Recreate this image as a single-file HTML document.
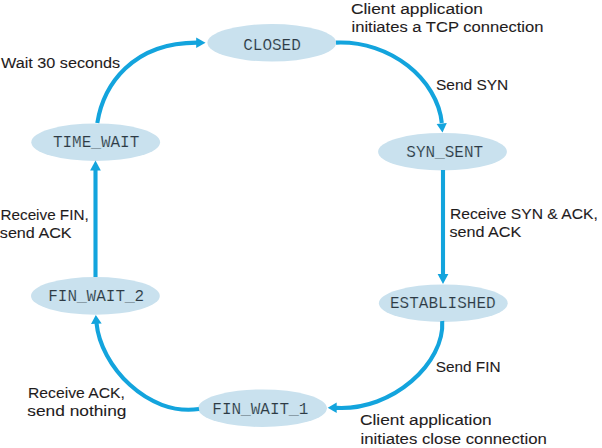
<!DOCTYPE html>
<html><head><meta charset="utf-8">
<style>
html,body{margin:0;padding:0;background:#fff;}
body{width:602px;height:448px;overflow:hidden;}
svg{display:block;}
.s{font-family:"Liberation Sans",sans-serif;font-size:15.5px;fill:#1f1c1d;stroke:#1f1c1d;stroke-width:0.1;}
.m{font-family:"Liberation Mono",monospace;font-size:16px;fill:#2e3a44;stroke:#c9e1ee;stroke-width:0.15;}
.e{fill:#c9e1ee;}
.a{fill:none;stroke:#13a4dd;stroke-width:4.1;}
.h{fill:#13a4dd;}
</style></head>
<body>
<svg width="602" height="448" viewBox="0 0 602 448" xmlns="http://www.w3.org/2000/svg">
<ellipse class="e" cx="271.8" cy="42.8" rx="64.4" ry="18.8"/>
<ellipse class="e" cx="442.5" cy="151.7" rx="64.4" ry="18.8"/>
<ellipse class="e" cx="443.3" cy="303.2" rx="64.4" ry="18.8"/>
<ellipse class="e" cx="262.5" cy="408.2" rx="64.4" ry="18.8"/>
<ellipse class="e" cx="95.4" cy="295.9" rx="64.4" ry="18.8"/>
<ellipse class="e" cx="95.7" cy="142.2" rx="64.4" ry="18.8"/>
<path class="a" d="M97.3,123 C103.4,85 132.3,42.6 197,42.6"/>
<polygon class="h" points="205.5,42.8 196.2,37.5 196.2,48.1"/>
<path class="a" d="M336,42.6 C390.7,40.3 437.5,79.7 441.8,123"/>
<polygon class="h" points="442.5,132.6 436.6,124.1 446.8,122.9"/>
<path class="a" d="M443,170 L443,275"/>
<polygon class="h" points="443,284.1 437.6,274 448.4,274"/>
<path class="a" d="M442.2,321 C445,362.5 393.1,411 336,407.9"/>
<polygon class="h" points="327.7,407.8 336.7,402.6 336.7,413.1"/>
<path class="a" d="M199,409 C147.5,416.7 100.4,365.6 96.5,323"/>
<polygon class="h" points="95.8,315.1 91,324.1 101.7,323.4"/>
<path class="a" d="M95.5,277 L95.5,170"/>
<polygon class="h" points="95.5,160.4 90.1,170.4 100.8,170.4"/>
<text class="m" x="272" y="49.5" text-anchor="middle">CLOSED</text>
<text class="m" x="444.7" y="156.5" text-anchor="middle">SYN_SENT</text>
<text class="m" x="442.8" y="308.3" text-anchor="middle">ESTABLISHED</text>
<text class="m" x="260.3" y="414.4" text-anchor="middle">FIN_WAIT_1</text>
<text class="m" x="96.2" y="301" text-anchor="middle">FIN_WAIT_2</text>
<text class="m" x="96.1" y="147.4" text-anchor="middle">TIME_WAIT</text>
<text class="s" x="351" y="13.6" textLength="132" lengthAdjust="spacingAndGlyphs">Client application</text>
<text class="s" x="351.5" y="31.8" textLength="191.9" lengthAdjust="spacingAndGlyphs">initiates a TCP connection</text>
<text class="s" x="1" y="67.8" textLength="119.1" lengthAdjust="spacingAndGlyphs">Wait 30 seconds</text>
<text class="s" x="436" y="89.6" textLength="72.2" lengthAdjust="spacingAndGlyphs">Send SYN</text>
<text class="s" x="450" y="218.7" textLength="147.8" lengthAdjust="spacingAndGlyphs">Receive SYN &amp; ACK,</text>
<text class="s" x="449.5" y="237.4" textLength="71.8" lengthAdjust="spacingAndGlyphs">send ACK</text>
<text class="s" x="0.5" y="219.5" textLength="88.2" lengthAdjust="spacingAndGlyphs">Receive FIN,</text>
<text class="s" x="-0.2" y="238.3" textLength="71.8" lengthAdjust="spacingAndGlyphs">send ACK</text>
<text class="s" x="435.7" y="371.9" textLength="64.8" lengthAdjust="spacingAndGlyphs">Send FIN</text>
<text class="s" x="28" y="397.8" textLength="96.9" lengthAdjust="spacingAndGlyphs">Receive ACK,</text>
<text class="s" x="27.3" y="416.2" textLength="99.2" lengthAdjust="spacingAndGlyphs">send nothing</text>
<text class="s" x="360" y="425" textLength="131.7" lengthAdjust="spacingAndGlyphs">Client application</text>
<text class="s" x="360.5" y="443.6" textLength="186.3" lengthAdjust="spacingAndGlyphs">initiates close connection</text>
</svg>
</body></html>
